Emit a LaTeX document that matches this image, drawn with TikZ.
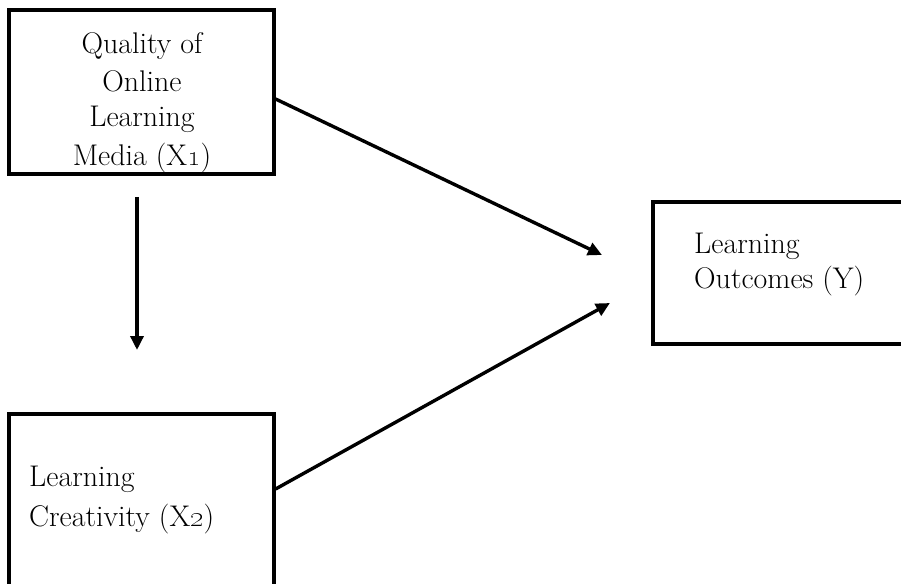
\documentclass[tikz,border=0pt]{standalone}
\usetikzlibrary{arrows.meta}
\begin{document}
\begin{tikzpicture}[x=1bp,y=-1bp,
  boxstyle/.style={draw=black,line width=3.2bp,rectangle,inner sep=0pt},
  txt/.style={inner sep=0pt,font=\fontsize{30}{37}\selectfont},
  conn/.style={line width=3.4bp,-{Triangle[length=14bp,width=13bp]}}]
\useasboundingbox[fill=white] (0,0) rectangle (901,584);
% boxes
\node[boxstyle,minimum width=265bp,minimum height=164bp] (x1) at (141.5,92) {};
\node[boxstyle,minimum width=260bp,minimum height=142bp] (y) at (783,273) {};
\node[boxstyle,minimum width=265bp,minimum height=190bp] (x2) at (141.5,509) {};
% texts
\node[txt,align=center,anchor=north] (t1) at (142,32)
  {Quality of\\[1pt] Online\\[-1pt] Learning\\[2pt] Media (X\oldstylenums{1})};
\node[txt,align=left,anchor=north west,font=\fontsize{30}{35}\selectfont] (ty) at (694,233)
  {Learning\\ Outcomes (Y)};
\node[txt,align=left,anchor=north west,font=\fontsize{30}{40}\selectfont] (t2) at (29,466)
  {Learning\\ Creativity (X\oldstylenums{2})};
% connectors
\coordinate (tipA) at (602,255);
\coordinate (tipB) at (610,303);
\coordinate (vTop) at (137,197);
\coordinate (vTip) at (137,350);
\draw[conn] ([yshift=-7bp]x1.east) -- (tipA);
\draw[conn] ([yshift=20bp]x2.east) -- (tipB);
\draw[conn] (vTop) -- (vTip);
\end{tikzpicture}
\end{document}
